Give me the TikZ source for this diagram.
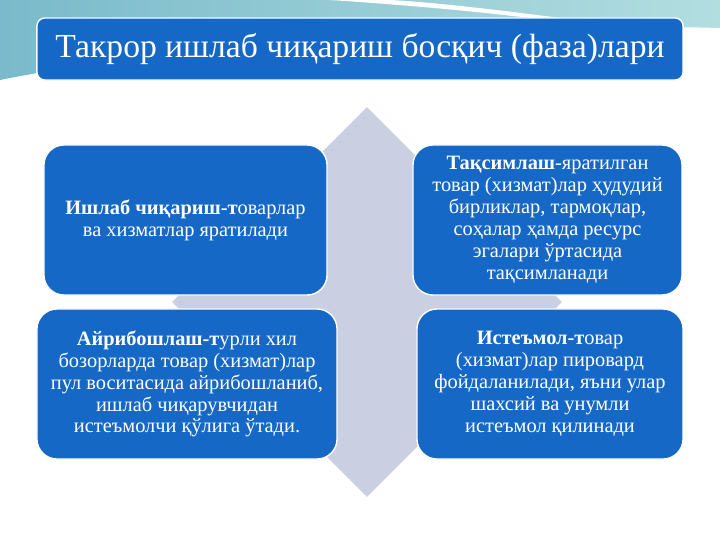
\documentclass[tikz,border=0pt]{standalone}
\usepackage{fontspec}
\setmainfont{Liberation Serif}
\usepackage{tikz}
\usetikzlibrary{shapes.geometric}

\definecolor{phaseblue}{RGB}{22,104,198}
\definecolor{diamondgray}{RGB}{202,207,225}
\definecolor{tealdark}{RGB}{122,186,202}
\definecolor{teallight}{RGB}{178,222,224}

\tikzset{
  phasebox/.style={rectangle,rounded corners=0.5cm,fill=phaseblue,draw=white,line width=1pt,
    text=white,align=center,minimum height=3.75cm,inner sep=2pt,
    font=\fontsize{14.5}{15.6}\selectfont}
}

\begin{document}
\begin{tikzpicture}[x=0.025cm,y=-0.025cm]
\useasboundingbox (0,0) rectangle (720,540);
\fill[white] (0,0) rectangle (720,540);

\shade[left color=tealdark,right color=teallight] (0,0) -- (720,0) -- (720,28)
  .. controls (500,22) and (200,40) .. (0,80) -- cycle;
\fill[white] (330,0) .. controls (420,6) and (480,12) .. (530,18)
  -- (560,18) .. controls (500,10) and (430,2) .. (390,0) -- cycle;

\node[fill=diamondgray,draw=none,diamond,minimum width=9.75cm,minimum height=9.75cm,inner sep=0pt] (DM) at (367,302){};

\node[rectangle,rounded corners=0.2cm,fill=phaseblue,draw=white,line width=1pt,text=white,
  minimum width=16.15cm,minimum height=1.55cm,inner sep=0pt,font=\fontsize{23.9}{28}\selectfont] (TITLE) at (360,49)
  {Такрор ишлаб чиқариш босқич (фаза)лари};

\node[phasebox,minimum width=7.075cm] (PROD) at (185.5,220)
  {\textbf{Ишлаб чиқариш-т}оварлар\\ва хизматлар яратилади};
\node[phasebox,minimum width=6.725cm] (DIST) at (547.5,220)
  {\textbf{Тақсимлаш}-яратилган\\товар (хизмат)лар ҳудудий\\бирликлар, тармоқлар,\\соҳалар ҳамда ресурс\\эгалари ўртасида\\тақсимланади};
\node[phasebox,minimum width=7.5cm] (EXCH) at (187,384)
  {\textbf{Айрибошлаш-т}урли хил\\бозорларда товар (хизмат)лар\\пул воситасида айрибошланиб,\\ишлаб чиқарувчидан\\истеъмолчи қўлига ўтади.};
\node[phasebox,minimum width=6.65cm] (CONS) at (550,384)
  {\textbf{Истеъмол-т}овар\\(хизмат)лар пировард\\фойдаланилади, яъни улар\\шахсий ва унумли\\истеъмол қилинади};
\end{tikzpicture}
\end{document}
